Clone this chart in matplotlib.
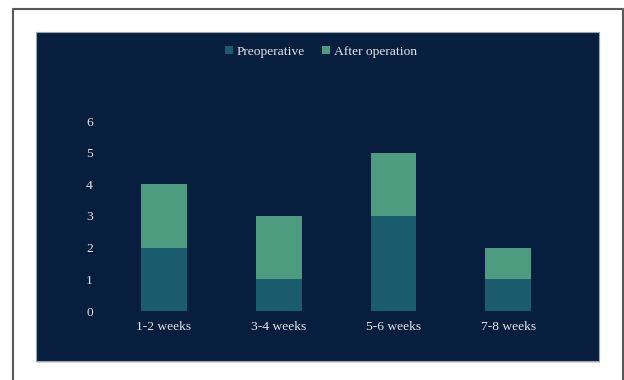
import matplotlib
matplotlib.use("Agg")
import matplotlib.pyplot as plt
from matplotlib.patches import Rectangle
from matplotlib.lines import Line2D
from matplotlib import font_manager

plt.rcParams['font.family'] = ['Liberation Serif', 'DejaVu Serif']

categories = ["1-2 weeks", "3-4 weeks", "5-6 weeks", "7-8 weeks"]
preoperative = [2, 1, 3, 1]
after_operation = [2, 2, 2, 1]
series_names = ["Preoperative", "After operation"]
yticks = [0, 1, 2, 3, 4, 5, 6]

W, H = 624, 380
fig = plt.figure(figsize=(W / 100, H / 100), dpi=100)
fig.patch.set_facecolor("white")

def fx(px):
    return px / W

def fy(py):
    return 1 - py / H

# outer border (left, top, right)
fig.add_artist(Line2D([fx(13), fx(13), fx(623), fx(623)], [0, fy(9), fy(9), 0],
                      color="#5a5a5a", lw=1.5, transform=fig.transFigure, zorder=-20))
# shadow + panel
fig.add_artist(Rectangle((fx(37), fy(362.5)), fx(599) - fx(36), fy(32) - fy(361),
                         transform=fig.transFigure, facecolor="#d9d9d9", edgecolor="none",
                         zorder=-20))
fig.add_artist(Rectangle((fx(36), fy(361)), fx(599) - fx(36), fy(32) - fy(361),
                         transform=fig.transFigure, facecolor="#081e3e",
                         edgecolor="#9aa3b0", lw=0.8, zorder=-10))

c_pre = "#1a5b6d"
c_post = "#4e9c80"
txt = "#e6e6e6"

ax = fig.add_axes([fx(106.7), fy(311), fx(565.6) - fx(106.7), fy(121) - fy(311)])
ax.patch.set_alpha(0)
x = list(range(len(categories)))
ax.bar(x, preoperative, width=0.4, color=c_pre, label=series_names[0])
ax.bar(x, after_operation, width=0.4, bottom=preoperative, color=c_post, label=series_names[1])
ax.set_xlim(-0.5, len(categories) - 0.5)
ax.set_ylim(0, 6)
ax.set_yticks(yticks)
ax.set_yticklabels([str(v) for v in yticks])
ax.set_xticks(x)
ax.set_xticklabels(categories)
for s in ax.spines.values():
    s.set_visible(False)
ax.tick_params(axis="both", length=0, colors=txt, labelsize=9.7)
ax.tick_params(axis="y", pad=10)
ax.tick_params(axis="x", pad=7)

h = [Rectangle((0, 0), 1, 1, facecolor=c_pre), Rectangle((0, 0), 1, 1, facecolor=c_post)]
leg = fig.legend(h, series_names, loc="center", bbox_to_anchor=(fx(321), fy(52)),
                 ncol=2, frameon=False, fontsize=9.7, handlelength=0.55, handleheight=0.55,
                 handletextpad=0.3, columnspacing=1.3, labelcolor=txt)

fig.savefig("out.png", dpi=100)
